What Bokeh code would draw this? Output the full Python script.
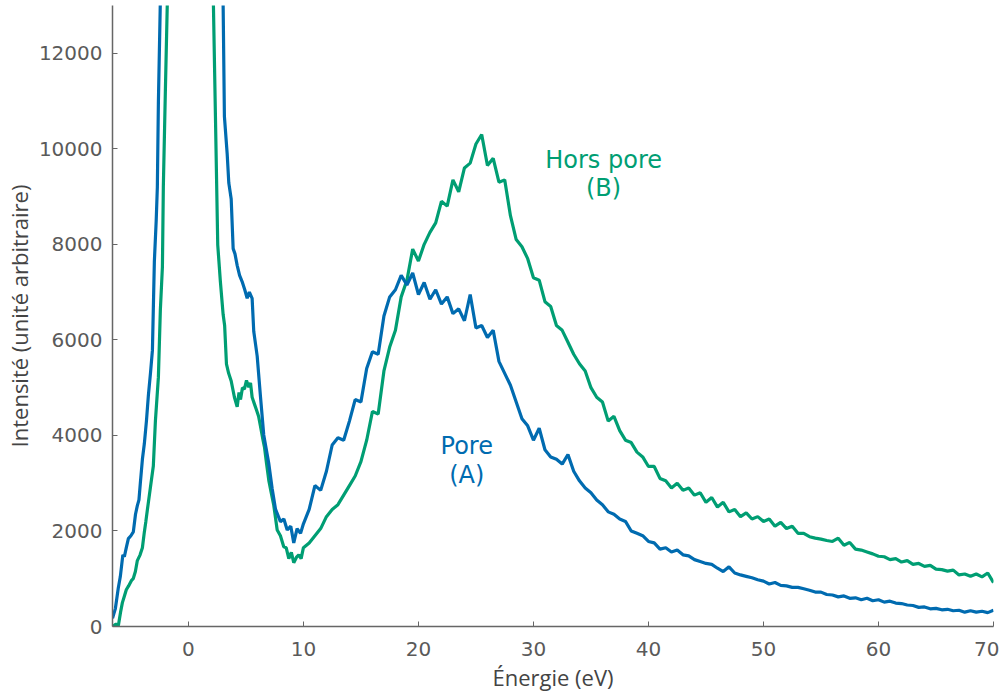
import numpy as np
from bokeh.plotting import figure
from bokeh.models import FixedTicker, Range1d, Label
from bokeh.embed import file_html
from bokeh.resources import INLINE

# ---- data ----
# Blue: "Pore (A)" -- edge / zero-loss region
pore_edge_x = [-6.6, -6.35, -6.1, -5.92, -5.7, -5.57, -5.4, -5.22, -5.0, -4.79, -4.6, -4.44,
               -4.3, -4.18, -4.0, -3.83, -3.65, -3.48, -3.3, -3.13, -2.96, -2.8, -2.70, -2.61,
               -2.44, -2.0, 0.0, 2.0, 2.9, 3.02, 3.13, 3.37, 3.51, 3.72, 3.89, 4.05, 4.24, 4.45,
               4.67, 4.9, 5.11, 5.3, 5.54, 5.68, 5.98, 6.27, 6.55, 6.99, 7.28, 7.57, 8.0, 8.3,
               8.59, 8.9, 9.16, 9.45, 9.75]
pore_edge_y = [170, 375, 800, 1045, 1500, 1460, 1650, 1840, 1900, 1980, 2350, 2530,
               2650, 3000, 3500, 3830, 4300, 4840, 5300, 5780, 7640, 8500, 9200, 10970,
               13100, 40000, 80000, 40000, 14000, 13000, 10680, 9900, 9290, 8950, 7910, 7800,
               7560, 7350, 7220, 7050, 6870, 7000, 6870, 6180, 5660, 4800, 4010, 3410, 2890,
               2460, 2195, 2250, 2020, 2100, 1750, 2050, 1950]
# Blue tail on a 0.5 eV grid, 10 -> 70 eV
pore_tail_y = [2150, 2450, 2950, 2850, 3250, 3800, 3950, 3900, 4300, 4750,
               4700, 5400, 5750, 5700, 6500, 6900, 7050, 7350, 7150, 7400,
               6950, 7200, 6850, 7050, 6750, 6900, 6550, 6650, 6400, 6950,
               6250, 6300, 6050, 6200, 5550, 5300, 5050, 4700, 4350, 4200,
               3900, 4150, 3700, 3550, 3500, 3400, 3600, 3250, 3050, 2900,
               2800, 2650, 2550, 2400, 2350, 2250, 2200, 2000, 1950, 1900,
               1780, 1750, 1620, 1650, 1560, 1600, 1500, 1480, 1400, 1360,
               1320, 1300, 1220, 1150, 1250, 1120, 1080, 1050, 1020, 980,
               950, 890, 920, 860, 850, 820, 820, 790, 760, 720,
               720, 670, 660, 620, 640, 590, 600, 560, 590, 540,
               560, 510, 530, 490, 480, 450, 440, 400, 410, 370,
               380, 350, 360, 330, 340, 300, 330, 300, 320, 290,
               340]

# Green: "Hors pore (B)"
hors_edge_x = [-6.6, -6.3, -6.09, -5.9, -5.74, -5.55, -5.40, -5.2, -4.96, -4.8, -4.61, -4.44,
               -4.2, -4.0, -3.83, -3.7, -3.57, -3.31, -3.05, -2.87, -2.61, -2.44, -2.26, -2.18,
               -2.0, -1.83, -1.0, 0.5, 1.5, 2.1, 2.35, 2.55, 2.78, 3.02, 3.15, 3.31, 3.5, 3.72,
               4.0, 4.24, 4.4, 4.53, 4.7, 4.87, 5.05, 5.25, 5.4, 5.54, 5.75, 5.92, 6.1, 6.27,
               6.45, 6.61, 6.8, 6.99, 7.2, 7.42, 7.72, 8.0, 8.29, 8.5, 8.73, 8.95, 9.16, 9.4,
               9.6, 9.8]
hors_edge_y = [0, 50, 20, 300, 500, 650, 770, 850, 960, 1000, 1150, 1380,
               1500, 1650, 1980, 2200, 2440, 2900, 3360, 4300, 5220, 6620, 7530, 9200,
               11250, 13100, 40000, 80000, 40000, 14000, 10680, 7990, 7220, 6530, 6300, 5490,
               5300, 5140, 4800, 4600, 4900, 4750, 5000, 4970, 5150, 5010, 5100, 4800, 4650,
               4530, 4400, 4190, 3950, 3760, 3400, 3060, 2800, 2540, 2020, 1900, 1670, 1650,
               1420, 1550, 1335, 1450, 1500, 1420]
hors_tail_y = [1650, 1750, 1900, 2050, 2300, 2450, 2550, 2750, 2950, 3150,
               3450, 3900, 4500, 4450, 5350, 5850, 6200, 6900, 7250, 7900,
               7650, 8000, 8250, 8450, 8900, 8800, 9350, 9100, 9600, 9700,
               10100, 10300, 9650, 9800, 9300, 9350, 8600, 8100, 7950, 7700,
               7300, 7250, 6800, 6700, 6300, 6200, 5950, 5700, 5500, 5350,
               5000, 4800, 4700, 4300, 4400, 4100, 3900, 3850, 3650, 3550,
               3350, 3350, 3100, 3050, 2900, 3000, 2850, 2900, 2750, 2800,
               2600, 2700, 2500, 2600, 2400, 2450, 2300, 2380, 2250, 2300,
               2200, 2250, 2100, 2180, 2050, 2100, 1950, 1950, 1880, 1850,
               1830, 1800, 1780, 1850, 1700, 1760, 1620, 1600, 1560, 1520,
               1470, 1460, 1400, 1420, 1350, 1380, 1300, 1320, 1260, 1280,
               1200, 1190, 1160, 1180, 1080, 1100, 1050, 1100, 1040, 1120,
               920]

tail_x = list(np.arange(10.0, 70.001, 0.5))

x_ticks = [0, 10, 20, 30, 40, 50, 60, 70]
y_ticks = [0, 2000, 4000, 6000, 8000, 10000, 12000]

BLUE = "#006BB0"
GREEN = "#009E73"
GREY_TXT = "#5a5a5a"
AXIS = "#666666"

p = figure(width=999, height=694, output_backend="svg", toolbar_location=None,
           x_range=Range1d(-6.6, 70), y_range=Range1d(0, 13000),
           min_border_left=104, min_border_right=6, min_border_top=5,
           min_border_bottom=66)
p.outline_line_color = None
p.grid.visible = False
p.background_fill_color = "white"

p.line(hors_edge_x + tail_x, hors_edge_y + hors_tail_y, color=GREEN, line_width=3.2)
p.line(pore_edge_x + tail_x, pore_edge_y + pore_tail_y, color=BLUE, line_width=3.2)

for ax in (p.xaxis[0], p.yaxis[0]):
    ax.axis_line_color = AXIS
    ax.axis_line_width = 1.5
    ax.major_tick_line_color = AXIS
    ax.major_tick_in = 5
    ax.major_tick_out = 0
    ax.minor_tick_line_color = None
    ax.major_label_text_font = "DejaVu Sans"
    ax.major_label_text_font_size = "20px"
    ax.major_label_text_color = GREY_TXT
    ax.axis_label_text_font = "Open Sans"
    ax.axis_label_text_font_style = "normal"
    ax.axis_label_text_font_size = "22px"
    ax.axis_label_text_color = "#444444"

p.xaxis[0].ticker = FixedTicker(ticks=x_ticks)
p.yaxis[0].ticker = FixedTicker(ticks=y_ticks)
p.xaxis[0].axis_label = "Énergie (eV)"
p.yaxis[0].axis_label = "Intensité (unité arbitraire)"
p.xaxis[0].major_label_standoff = 15
p.yaxis[0].major_label_standoff = 10
p.xaxis[0].axis_label_standoff = 3
p.yaxis[0].axis_label_standoff = 2

labels = [("Hors pore", 36.1, 9770, GREEN), ("(B)", 36.1, 9180, GREEN),
          ("Pore", 24.2, 3777, BLUE), ("(A)", 24.2, 3172, BLUE)]
for txt, lx, ly, col in labels:
    p.add_layout(Label(x=lx, y=ly, text=txt, text_align="center", text_baseline="middle",
                       text_color=col, text_font="DejaVu Sans", text_font_size="24px"))

open("out.html", "w").write(file_html(p, INLINE))
